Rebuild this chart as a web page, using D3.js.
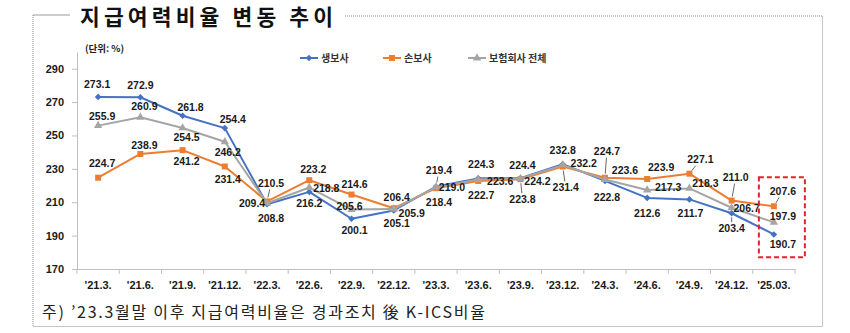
<!DOCTYPE html>
<html>
<head>
<meta charset="utf-8">
<script src="https://cdn.jsdelivr.net/npm/d3@7"></script>
<style>
  body { margin: 0; background: #fff; }
  svg { display: block; }
</style>
</head>
<body>
<svg id="chart" width="850" height="333"></svg>
<script>
// ---- data ----
const categories = ["'21.3.", "'21.6.", "'21.9.", "'21.12.", "'22.3.", "'22.6.", "'22.9.", "'22.12.",
  "'23.3.", "'23.6.", "'23.9.", "'23.12.", "'24.3.", "'24.6.", "'24.9.", "'24.12.", "'25.03."];
const lifeValues    = [273.1, 272.9, 261.8, 254.4, 208.8, 216.2, 200.1, 205.1, 219.4, 224.3, 224.4, 232.8, 222.8, 212.6, 211.7, 203.4, 190.7];
const nonLifeValues = [224.7, 238.9, 241.2, 231.4, 210.5, 223.2, 214.6, 206.4, 218.4, 222.7, 223.8, 231.4, 224.7, 223.9, 227.1, 211.0, 207.6];
const totalValues   = [255.9, 260.9, 254.5, 246.2, 209.4, 218.8, 205.6, 205.9, 219.0, 223.6, 224.2, 232.2, 223.6, 217.3, 218.3, 206.7, 197.9];
const seriesNames = ["생보사", "손보사", "보험회사 전체"];
const yTicks = [170, 190, 210, 230, 250, 270, 290];
const titleText = "지급여력비율 변동 추이";
const unitText = "(단위: %)";
const noteText = "주) ’23.3월말 이후 지급여력비율은 경과조치 後 K-ICS비율";

// ---- label placement: [dx, dy, leader?] relative to each point ----
const lifeLabelPos = [[-1,-13],[0,-12],[8,-9],[8,-9],[4,14],[0,11],[3,11],[3,13],[3,-16,1],[3,-14],[2,-13],[0,-14],[2,16],[0,15],[1,14],[0,15,1],[9,10]];
const nonLifeLabelPos = [[4,-14],[4,-9],[4,11],[3,13],[4,-18,1],[4,-11],[3,-10],[3,-11],[3,14],[3,14],[2,20,1],[3,21,1],[2,-26,1],[14,-12],[11,-14,1],[4,-23,1],[9,-15,1]];
const totalLabelPos = [[4,-9],[4,-11],[4,9],[3,10],[-15,0],[17,1],[-2,-3],[18,4,1],[16,0],[22,2],[17,3],[21,-2],[20,-9],[21,-3],[16,-5],[15,0],[9,-6]];

const NUM_FONT = "'Liberation Sans', Arial, sans-serif";
const KR_FONT = "'Noto Sans CJK KR', 'Noto Sans', sans-serif";

const svg = d3.select("#chart");

// ---- frame around the chart ----
svg.append("path")
  .attr("d", "M33,15 H70")
  .attr("fill", "none").attr("stroke", "#9a9a9a").attr("stroke-width", 1);
svg.append("path")
  .attr("d", "M33,15 V326.5 H822.5 V16 H344")
  .attr("fill", "none").attr("stroke", "#8a8a8a").attr("stroke-width", 1)
  .attr("stroke-dasharray", "1,1");

// ---- title ----
svg.append("text")
  .attr("x", 80).attr("y", 25)
  .attr("textLength", 253).attr("lengthAdjust", "spacing")
  .attr("font-family", KR_FONT).attr("font-weight", 700).attr("font-size", 21.5)
  .attr("fill", "#111")
  .text(titleText);

// ---- scales ----
const x = d3.scaleBand().domain(categories).range([77, 795]);
const y = d3.scaleLinear().domain([170, 300]).range([269, 52]);
const cx = c => x(c) + x.bandwidth() / 2;

// ---- y axis ----
const yAxis = svg.append("g")
  .attr("transform", "translate(77,0)")
  .call(d3.axisLeft(y).tickValues(yTicks).tickSize(5).tickPadding(8).tickSizeOuter(0));
yAxis.select(".domain").attr("stroke", "#bfbfbf");
yAxis.selectAll(".tick line").attr("stroke", "#bfbfbf");
yAxis.selectAll(".tick text")
  .attr("font-family", NUM_FONT).attr("font-weight", 700).attr("font-size", 11).attr("fill", "#1a1a1a");

// ---- x axis ----
const xAxis = svg.append("g")
  .attr("transform", "translate(0,269)")
  .call(d3.axisBottom(x).tickSize(0).tickPadding(12).tickSizeOuter(0));
xAxis.select(".domain").attr("stroke", "#bfbfbf");
xAxis.selectAll(".tick text")
  .attr("font-family", NUM_FONT).attr("font-weight", 700).attr("font-size", 11).attr("fill", "#1a1a1a");
// tick marks between categories
const boundaries = categories.map(c => x(c)).concat([x.range()[1]]);
xAxis.selectAll("line.bound").data(boundaries).enter().append("line")
  .attr("class", "bound")
  .attr("x1", d => d).attr("x2", d => d)
  .attr("y1", 0).attr("y2", 5)
  .attr("stroke", "#bfbfbf");

// unit label
svg.append("text")
  .attr("x", 85).attr("y", 52)
  .attr("font-family", KR_FONT).attr("font-weight", 700).attr("font-size", 9.5)
  .attr("fill", "#222")
  .text(unitText);

// ---- series ----
const diamond = d3.symbol().type(d3.symbolSquare).size(22)();
const square = d3.symbol().type(d3.symbolSquare).size(36)();
const triangle = d3.symbol().type(d3.symbolTriangle).size(30)();

const series = [
  { name: seriesNames[0], values: lifeValues, color: "#4472c4", marker: diamond, rotate: 45, labels: lifeLabelPos },
  { name: seriesNames[1], values: nonLifeValues, color: "#ed7d31", marker: square, rotate: 0, labels: nonLifeLabelPos },
  { name: seriesNames[2], values: totalValues, color: "#a5a5a5", marker: triangle, rotate: 0, labels: totalLabelPos }
];

const line = d3.line().x(d => cx(d.c)).y(d => y(d.v));

const plot = svg.append("g");
series.forEach(s => {
  const pts = s.values.map((v, i) => ({ c: categories[i], v: v }));
  plot.append("path")
    .datum(pts)
    .attr("d", line)
    .attr("fill", "none").attr("stroke", s.color).attr("stroke-width", 2)
    .attr("stroke-linejoin", "round");
  plot.selectAll(null).data(pts).enter().append("path")
    .attr("d", s.marker)
    .attr("transform", d => `translate(${cx(d.c)},${y(d.v)}) rotate(${s.rotate})`)
    .attr("fill", s.color);
});

// ---- data labels ----
const labels = svg.append("g");
function leader(px, py, lx, ly) {
  const hw = 13.5, hh = 6;
  const dx = lx - px, dy = ly - py;
  const len = Math.hypot(dx, dy);
  const tx = dx !== 0 ? hw / Math.abs(dx) : Infinity;
  const ty = dy !== 0 ? hh / Math.abs(dy) : Infinity;
  const t = Math.min(tx, ty);
  const s = 4 / len;
  labels.append("line")
    .attr("x1", px + dx * s).attr("y1", py + dy * s)
    .attr("x2", lx - dx * t).attr("y2", ly - dy * t)
    .attr("stroke", "#404040").attr("stroke-width", 0.8);
}
series.forEach(s => {
  s.values.forEach((v, i) => {
    const px = cx(categories[i]), py = y(v);
    const [dx, dy, hasLeader] = s.labels[i];
    const lx = px + dx, ly = py + dy;
    if (hasLeader) leader(px, py, lx, ly);
    labels.append("text")
      .attr("x", lx).attr("y", ly).attr("dy", "0.36em")
      .attr("text-anchor", "middle")
      .attr("font-family", NUM_FONT).attr("font-weight", 700).attr("font-size", 10.5)
      .attr("fill", "#1a1a1a")
      .text(v.toFixed(1));
  });
});

// ---- highlight box on the latest quarter ----
const last = categories[categories.length - 1];
svg.append("rect")
  .attr("x", x(last) + 0.5 * x.bandwidth() - 15).attr("y", y(225))
  .attr("width", 46).attr("height", y(177) - y(225))
  .attr("fill", "none").attr("stroke", "#e3242b").attr("stroke-width", 2)
  .attr("stroke-dasharray", "5,3");

// ---- legend ----
const legendX = [300, 383, 468];
const legend = svg.append("g").attr("transform", "translate(0,58)");
series.forEach((s, i) => {
  const g = legend.append("g").attr("transform", `translate(${legendX[i]},0)`);
  g.append("line").attr("x1", 0).attr("x2", 18).attr("y1", 0).attr("y2", 0)
    .attr("stroke", s.color).attr("stroke-width", 2);
  g.append("path").attr("d", s.marker)
    .attr("transform", `translate(9,0) rotate(${s.rotate})`).attr("fill", s.color);
  g.append("text").attr("x", 21).attr("y", 0).attr("dy", "0.35em")
    .attr("font-family", KR_FONT).attr("font-weight", 700).attr("font-size", 10)
    .attr("fill", "#333")
    .text(s.name);
});

// ---- footnote ----
svg.append("text")
  .attr("x", 42).attr("y", 318)
  .attr("textLength", 443).attr("lengthAdjust", "spacing")
  .attr("font-family", KR_FONT).attr("font-size", 16)
  .attr("fill", "#222")
  .text(noteText);
</script>
</body>
</html>
